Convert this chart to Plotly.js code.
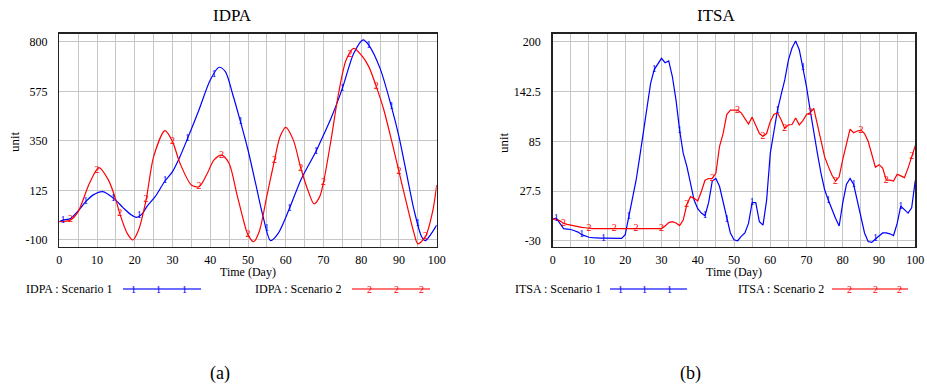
<!DOCTYPE html>
<html>
<head>
<meta charset="utf-8">
<script src="https://cdn.plot.ly/plotly-3.0.1.min.js"></script>
<style>html,body{margin:0;padding:0;background:#fff}#chart{width:927px;height:384px}</style>
</head>
<body>
<div id="chart"></div>
<script>
// ---------- DATA ----------
const idpaS1X = [0,1,3,5,7,9,11.5,14.5,17,19,20.5,22,23.2,25.4,28,30,32,34,37,40,42.3,44,46,48,50,52,54,56,58,61,64,68,70,72,75,78,80.5,82,85,88,90,92,94,96,97,98,100];
const idpaS1Y = [-17,-10,-2,32,74,105,120,88,45,15,3,20,52,97,168,211,280,362,491,627,685,665,559,438,309,158,6,-103,-70,44,173,302,377,453,589,748,810,786,680,506,370,203,36,-85,-103,-85,-32];
const idpaS2X = [0,3,5,8,10.5,13,15,16,18,19.5,21,23,25,28,30,32,35,37,39,41,43,45,47,49,50,51.5,53,55,57,58.5,60,62,64,66,67.5,69,70,72,74,76,78,80,82,84,86,88,90,92,94,95,97,99,100];
const idpaS2Y = [-17,-9,29,158,229,173,82,21,-70,-100,-55,82,279,397,347,248,150,142,195,264,286,248,112,-24,-77,-108,-60,100,261,370,412,355,226,120,64,97,161,355,567,718,771,741,688,597,491,355,211,67,-70,-118,-85,36,150];

const days = [0,1,2,3,4,5,6,7,8,9,10,11,12,13,14,15,16,17,18,19,20,21,22,23,24,25,26,27,28,29,30,31,32,33,34,35,36,37,38,39,40,41,42,43,44,45,46,47,48,49,50,51,52,53,54,55,56,57,58,59,60,61,62,63,64,65,66,67,68,69,70,71,72,73,74,75,76,77,78,79,80,81,82,83,84,85,86,87,88,89,90,91,92,93,94,95,96,97,98,99,100];
const itsaS1 = [-5,-4,-10,-16,-16.5,-17,-18.5,-20,-23,-24.5,-26,-26.5,-27,-27,-27,-27,-27.2,-27.3,-27.3,-27.3,-23,-2,17,40,67,94,125,152,168,175,181,176,178,160,133,98,71,56,37,17,7,2,-1,14,39,42,33,14,-6,-21,-29,-30,-25,-21,-10,14,14,-8,-12,17,71,98,121,139,156,179,193,201,191,170,148,121,94,71,48,29,17,6,-4,-13,14,35,42,35,17,-2,-21,-31,-32,-28,-24,-21,-21,-22,-24,-10,10,6,2,8,40];
const itsaS2 = [-5,-5,-7,-10,-11,-12,-13,-13.5,-14.5,-15,-15.7,-16,-16,-16,-16,-16.1,-16.1,-16.1,-16.1,-16.1,-16.1,-16.1,-16.1,-16.1,-16.1,-16.1,-16.1,-16.1,-16.1,-16.1,-16.1,-13,-9,-8,-9.5,-12.5,-6,12,21,19,16,27,40,42,42,48,79,94,116,121,121,121,118,111,105,113,104,94,91,94,108,116,118,110,100,104,104.5,112,104,109,116,118,123,104,87,67,56,46,39,44,64,83,99,95,97,98,94,85,71,55,58,54,40,40,39,47,45,43,54,67,80];

const idpaM1 = [1,7,14.3,21.2,28,34,41,48,55,61,68,75,82,88,95];
const idpaM2 = [3,10,16,23,30,37,43,50,57,64,70,77,84,90,97];
const itsaM1 = [1,8,14,21,28,35,42,48,55,62,69,76,83,89,96];
const itsaM2 = [3,10,17,23,30,37,44,51,58,64,71,78,85,92,99];

const idpaTicks = [-100,125,350,575,800];
const itsaTicks = [-30,27.5,85,142.5,200];
const xTicks = [0,5,10,15,20,25,30,35,40,45,50,55,60,65,70,75,80,85,90,95,100];

// ---------- HELPERS ----------
function interp(xs, ys, x){
  for (let i=0;i<xs.length-1;i++){
    if (x>=xs[i] && x<=xs[i+1]){
      const t=(x-xs[i])/(xs[i+1]-xs[i]);
      return ys[i]+t*(ys[i+1]-ys[i]);
    }
  }
  return ys[ys.length-1];
}
const BLUE='#0000ff', RED='#ff0000';
const FONT='Liberation Serif';
function lineTrace(x,y,color,xa,ya,shape){
  return {x:x,y:y,type:'scatter',mode:'lines',xaxis:xa,yaxis:ya,
    line:{color:color,width:1.2,shape:shape,smoothing:0.8},hoverinfo:'skip',showlegend:false};
}
function markTrace(mx,xs,ys,label,color,xa,ya){
  return {x:mx,y:mx.map(v=>interp(xs,ys,v)),type:'scatter',mode:'text',xaxis:xa,yaxis:ya,
    text:mx.map(()=>label),textposition:'middle center',
    textfont:{family:FONT,size:10,color:color},hoverinfo:'skip',showlegend:false,cliponaxis:false};
}

const traces = [
  lineTrace(idpaS1X,idpaS1Y,BLUE,'x','y','spline'),
  lineTrace(idpaS2X,idpaS2Y,RED,'x','y','spline'),
  markTrace(idpaM1,idpaS1X,idpaS1Y,'1',BLUE,'x','y'),
  markTrace(idpaM2,idpaS2X,idpaS2Y,'2',RED,'x','y'),
  lineTrace(days,itsaS1,BLUE,'x2','y2','linear'),
  lineTrace(days,itsaS2,RED,'x2','y2','linear'),
  markTrace(itsaM1,days,itsaS1,'1',BLUE,'x2','y2'),
  markTrace(itsaM2,days,itsaS2,'2',RED,'x2','y2')
];

const W=927,H=384;
const px=v=>v/W, py=v=>1-v/H;
function xAxis(dom){
  return {domain:dom,range:[0,100],tickmode:'array',tickvals:xTicks,
    ticktext:xTicks.map(v=>v%10===0?String(v):''),ticks:'',showgrid:true,gridcolor:'#c6c6c6',gridwidth:1,
    zeroline:false,showline:true,mirror:true,linecolor:'#222',linewidth:1.5,
    tickfont:{family:FONT,size:12,color:'#000'},ticklabelstandoff:1,fixedrange:true};
}
function yAxis(range,ticks,anchor){
  return {domain:[0.3576,0.9115],range:range,tickmode:'array',tickvals:ticks,
    ticktext:ticks.map(String),ticks:'',showgrid:true,gridcolor:'#c6c6c6',gridwidth:1,
    zeroline:false,showline:true,mirror:true,linecolor:'#222',linewidth:1.5,anchor:anchor,
    tickfont:{family:FONT,size:12,color:'#000'},ticklabelstandoff:8,fixedrange:true};
}

const ann = [];
const shapes = [];
function txt(t,x,y,size,opts){
  ann.push(Object.assign({text:t,x:px(x),y:py(y),xref:'paper',yref:'paper',showarrow:false,
    font:{family:FONT,size:size,color:'#000'},xanchor:'center',yanchor:'middle'},opts||{}));
}
txt('IDPA',232,16,17);
txt('ITSA',716,16,17);
txt('Time (Day)',248,272,12);
txt('Time (Day)',734,272,12);
txt('unit',14,142,13,{textangle:-90});
txt('unit',503,142,13,{textangle:-90});
txt('(a)',220,373,18);
txt('(b)',690,373,18);

function legendItem(label,tx,x0,x1,marks,mk,color,rgba){
  txt(label,tx,289,12,{xanchor:'left'});
  shapes.push({type:'line',xref:'paper',yref:'paper',x0:px(x0),x1:px(x1),y0:py(289),y1:py(289),
    line:{color:rgba,width:2.2}});
  marks.forEach(m=>ann.push({text:mk,x:px(m),y:py(289),xref:'paper',yref:'paper',showarrow:false,
    font:{family:FONT,size:10,color:color},xanchor:'center',yanchor:'middle'}));
}
legendItem('IDPA : Scenario 1',24,123,201,[133,158,184],'1',BLUE,'rgba(60,60,255,0.75)');
legendItem('IDPA : Scenario 2',253,352,430,[369,396,421],'2',RED,'rgba(255,70,70,0.75)');
legendItem('ITSA : Scenario 1',513,610,687,[620,644,669],'1',BLUE,'rgba(60,60,255,0.75)');
legendItem('ITSA : Scenario 2',736,832,908,[849,875,899],'2',RED,'rgba(255,70,70,0.75)');

const layout = {
  width:W,height:H,margin:{l:0,r:0,t:0,b:0},paper_bgcolor:'#fff',plot_bgcolor:'#fff',
  showlegend:false,font:{family:FONT},
  xaxis:xAxis([59.3/W,436.7/W]),
  yaxis:yAxis([-130.5,836.4],idpaTicks,'x'),
  xaxis2:Object.assign(xAxis([552.7/W,915.3/W]),{anchor:'y2'}),
  yaxis2:yAxis([-36.9,209.2],itsaTicks,'x2'),
  annotations:ann,shapes:shapes
};
layout.xaxis.anchor='y';
Plotly.newPlot('chart',traces,layout,{staticPlot:true,displayModeBar:false});
</script>
</body>
</html>
